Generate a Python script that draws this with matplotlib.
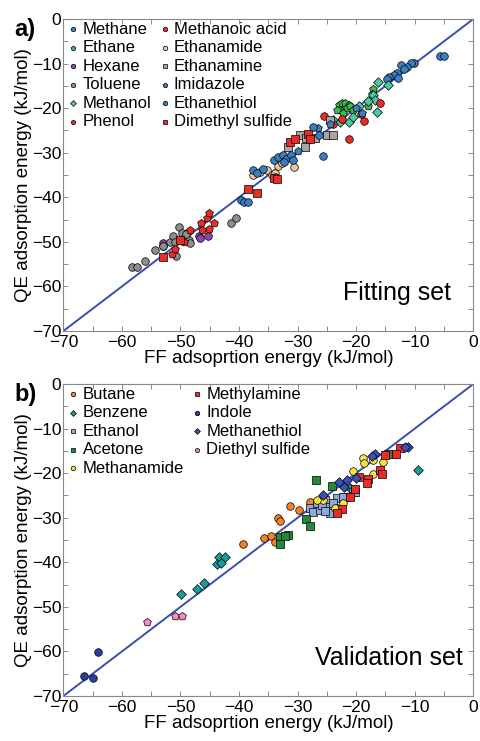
import matplotlib.pyplot as plt
import numpy as np
from matplotlib.ticker import MultipleLocator

plt.rcParams['font.family'] = ['Liberation Sans', 'DejaVu Sans']

# ---- fitting set (panel a) ----
methane_x = [-5.7, -5.0, -10.1, -10.7, -11.3, -12.4, -11.8, -13.0, -13.6, -14.4, -12.8, -14.8]
methane_y = [-8.2, -8.2, -9.8, -9.9, -10.7, -10.4, -11.2, -12.2, -12.6, -13.1, -13.3, -13.4]
ethane_x = [-23.0, -22.5, -21.9, -21.3, -22.8, -23.3, -21.6, -21.0, -20.5, -17.1, -17.3, -17.9, -22.2]
ethane_y = [-19.3, -18.9, -18.9, -19.3, -20.4, -20.4, -20.0, -19.5, -20.3, -15.8, -16.8, -19.5, -21.0]
hexane_x = [-53.0, -53.0, -48.9, -46.9, -45.3, -46.7]
hexane_y = [-50.2, -51.0, -47.9, -48.7, -48.7, -49.2]
toluene_x = [-58.2, -57.4, -56.05, -54.3, -52.9, -51.8, -51.3, -50.2, -49.8, -49.5, -50.8, -50.9,
             -48.6, -48.3, -49.0, -41.3, -40.6]
toluene_y = [-55.6, -55.6, -54.2, -51.8, -50.9, -50.0, -48.7, -46.6, -47.9, -49.4, -53.1, -50.0,
             -49.6, -50.2, -48.2, -45.8, -44.7]
methanol_x = [-23.9, -22.8, -21.3, -16.2, -14.5, -17.2, -16.8, -16.5, -19.5, -20.5, -18.0]
methanol_y = [-22.7, -23.0, -23.0, -14.1, -14.8, -17.0, -18.2, -20.8, -19.6, -22.0, -18.5]
phenol_x = [-51.5, -50.9, -49.4, -48.4, -46.5, -45.5, -45.2, -44.3, -45.1, -46.4]
phenol_y = [-52.7, -51.5, -50.0, -47.3, -45.7, -44.7, -43.6, -45.7, -47.0, -47.3]
methanoic_x = [-25.5, -21.2, -18.7, -19.1, -15.9, -22.5, -24.0]
methanoic_y = [-21.8, -27.0, -22.8, -21.2, -18.9, -22.5, -23.5]
ethanamide_x = [-37.6, -36.4, -35.3, -34.4, -33.9, -33.3, -33.9, -30.7, -32.7]
ethanamide_y = [-35.0, -34.3, -33.9, -35.0, -34.6, -33.0, -35.5, -33.1, -32.4]
ethanamine_x = [-31.6, -29.6, -28.7, -27.0, -25.0, -24.0, -24.5, -28.6]
ethanamine_y = [-28.8, -26.0, -28.6, -26.8, -26.0, -26.0, -22.7, -26.6]
imidazole_x = [-20.0, -19.0, -24.5, -26.5, -30.0]
imidazole_y = [-20.0, -21.0, -23.5, -24.5, -29.5]
ethanethiol_x = [-37.6, -37.0, -35.9, -34.1, -33.3, -32.5, -31.9, -31.2, -30.8, -32.4, -27.4, -26.3,
                 -25.6, -39.7, -39.1, -38.4]
ethanethiol_y = [-33.9, -34.6, -33.7, -31.6, -30.9, -30.5, -31.3, -30.5, -31.6, -32.0, -24.3, -26.0,
                 -30.7, -40.5, -41.0, -41.0]
dms_x = [-53.0, -38.5, -37.0, -34.1, -33.5, -31.3, -30.4, -28.3, -27.9, -50.0]
dms_y = [-53.5, -38.2, -39.1, -35.7, -36.0, -27.5, -27.0, -25.8, -27.0, -49.5]

# ---- validation set (panel b) ----
butane_x = [-39.3, -35.8, -34.6, -33.8, -33.3, -33.0, -31.3, -29.7, -27.9]
butane_y = [-36.0, -34.5, -34.1, -35.4, -30.1, -30.7, -27.4, -28.3, -26.4]
benzene_x = [-49.96, -47.1, -46.0, -43.5, -42.4, -43.8, -43.0, -9.4, -21.0]
benzene_y = [-47.1, -45.9, -44.7, -38.9, -38.7, -40.4, -40.2, -19.2, -23.4]
ethanol_x = [-27.9, -27.3, -26.2, -25.3, -24.6, -23.3, -21.9, -20.5, -26.7, -25.9, -23.9, -20.2,
             -22.2, -24.5, -25.3]
ethanol_y = [-27.9, -28.6, -28.3, -26.0, -27.5, -25.6, -25.3, -24.2, -26.8, -27.2, -26.8, -24.2,
             -25.4, -29.0, -28.4]
acetone_x = [-33.0, -31.6, -33.0, -28.6, -27.8, -26.9, -24.2, -14.6, -32.2]
acetone_y = [-34.3, -33.9, -35.8, -30.3, -31.9, -21.5, -22.9, -15.6, -34.0]
methanamide_x = [-18.8, -18.7, -17.1, -15.4, -20.6, -17.2, -21.05, -22.2, -23.3, -25.6, -26.7, -23.6]
methanamide_y = [-16.7, -17.7, -17.1, -17.4, -19.4, -20.2, -25.1, -26.6, -27.9, -26.0, -26.0, -27.9]
methylamine_x = [-12.5, -13.2, -15.1, -15.9, -15.6, -17.9, -18.2, -19.5, -20.2, -21.0, -22.5, -23.3]
methylamine_y = [-14.4, -15.6, -15.9, -19.3, -20.2, -21.2, -22.3, -20.9, -23.6, -25.4, -28.1, -29.0]
indole_x = [-66.5, -65.0, -64.0]
indole_y = [-65.5, -66.0, -60.1]
methanethiol_x = [-11.1, -11.7, -16.8, -17.35, -23.0, -21.6, -25.6, -20.0, -22.0]
methanethiol_y = [-14.1, -14.2, -15.8, -16.2, -21.9, -21.5, -24.9, -21.0, -23.0]
des_x = [-55.7, -50.9, -49.8]
des_y = [-53.3, -52.1, -52.1]

fit_series = [
    ("Methane", methane_x, methane_y, "o", "#3b7fc2"),
    ("Ethane", ethane_x, ethane_y, "p", "#3dbb4c"),
    ("Hexane", hexane_x, hexane_y, "o", "#8e44ad"),
    ("Toluene", toluene_x, toluene_y, "o", "#8d8d8d"),
    ("Methanol", methanol_x, methanol_y, "D", "#4ccaa6"),
    ("Phenol", phenol_x, phenol_y, "p", "#ec2b24"),
    ("Methanoic acid", methanoic_x, methanoic_y, "o", "#ec2b24"),
    ("Ethanamide", ethanamide_x, ethanamide_y, "o", "#e9c99c"),
    ("Ethanamine", ethanamine_x, ethanamine_y, "s", "#a6a6a6"),
    ("Imidazole", imidazole_x, imidazole_y, "p", "#3b7fc2"),
    ("Ethanethiol", ethanethiol_x, ethanethiol_y, "o", "#3b7fc2"),
    ("Dimethyl sulfide", dms_x, dms_y, "s", "#ec2b24"),
]
val_series = [
    ("Butane", butane_x, butane_y, "o", "#f58025"),
    ("Benzene", benzene_x, benzene_y, "D", "#199c9c"),
    ("Ethanol", ethanol_x, ethanol_y, "s", "#8fa9dc"),
    ("Acetone", acetone_x, acetone_y, "s", "#23873c"),
    ("Methanamide", methanamide_x, methanamide_y, "o", "#f8e43c"),
    ("Methylamine", methylamine_x, methylamine_y, "s", "#ec2b24"),
    ("Indole", indole_x, indole_y, "o", "#2b3e9e"),
    ("Methanethiol", methanethiol_x, methanethiol_y, "D", "#3b50b8"),
    ("Diethyl sulfide", des_x, des_y, "p", "#f38cc4"),
]


def draw_panel(ax, series, title, title_x, tag):
    ax.plot([-70, 0], [-70, 0], color="#3a4db0", lw=1.4, zorder=1)
    for name, xs, ys, m, c in series:
        s = 34 if m == "p" else (24 if m == "D" else 30)
        ax.scatter(xs, ys, marker=m, s=s, c=c, edgecolors="black", linewidths=0.5,
                   label=name, zorder=3)
    ax.set_xlim(-70, 0)
    ax.set_ylim(-70, 0)
    ax.xaxis.set_major_locator(MultipleLocator(10))
    ax.yaxis.set_major_locator(MultipleLocator(10))
    ax.xaxis.set_minor_locator(MultipleLocator(5))
    ax.yaxis.set_minor_locator(MultipleLocator(5))
    ax.tick_params(which="both", direction="in", top=True, right=True, length=3.5,
                   width=0.6, color="#777777", labelsize=12.5, pad=1.5)
    ax.tick_params(axis="x", pad=3)
    for sp in ax.spines.values():
        sp.set_color("#888888")
        sp.set_linewidth(0.8)
    ax.set_xlabel("FF adsoprtion energy (kJ/mol)", fontsize=13.5, labelpad=0)
    ax.set_ylabel("QE adsorption energy (kJ/mol)", fontsize=13.5, labelpad=0)
    ax.text(title_x, 0.1, title, transform=ax.transAxes, ha="right", va="baseline", fontsize=18)
    ax.text(-0.12, 0.965, tag, transform=ax.transAxes, ha="left", va="center",
            fontsize=17, fontweight="bold")
    ax.legend(loc="upper left", ncol=2, frameon=False, fontsize=12, markerscale=0.6,
              handletextpad=0.1, labelspacing=0.21, columnspacing=0.35, handlelength=0.9,
              borderaxespad=0.0, borderpad=0.15)


fig = plt.figure(figsize=(4.8, 7.41), dpi=100)
ax1 = fig.add_axes([0.132, 0.5533, 0.854, 0.421])
ax2 = fig.add_axes([0.132, 0.0607, 0.854, 0.421])
draw_panel(ax1, fit_series, "Fitting set", 0.946, "a)")
draw_panel(ax2, val_series, "Validation set", 0.975, "b)")

fig.savefig("out.png", dpi=100)
